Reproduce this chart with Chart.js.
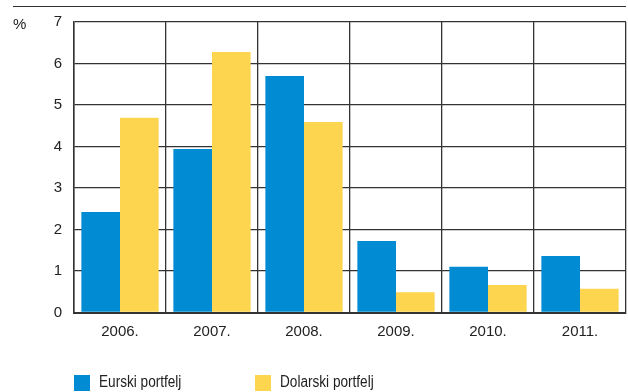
<!DOCTYPE html>
<html>
<head>
<meta charset="utf-8">
<script src="https://cdn.jsdelivr.net/npm/chart.js@4"></script>
<style>
  html, body { margin: 0; padding: 0; background: #fff; }
  body { width: 628px; height: 392px; position: relative; overflow: hidden;
         font-family: "Liberation Sans", Arial, sans-serif; color: #222; }
  #wrap { position: absolute; left: 0; top: 0; width: 628px; height: 392px; }
  .topline { position: absolute; left: 13px; top: 6px; width: 613px; height: 0; border-top: 1.3px solid #333; }
  .unit { position: absolute; left: 13px; top: 15px; font-size: 15px; }
  .leg { position: absolute; top: 373px; font-size: 16px; line-height: 18px;
         transform: scaleX(0.85); transform-origin: left center; white-space: nowrap; }
  .box { position: absolute; top: 375px; width: 16px; height: 16px; }
</style>
</head>
<body>
<div id="wrap"><canvas id="canvas" width="628" height="392"></canvas></div>
<div class="topline"></div>
<div class="unit">%</div>
<div class="box" style="left:74px;background:#008bd2"></div>
<div class="leg" style="left:99px">Eurski portfelj</div>
<div class="box" style="left:255px;background:#fed54e"></div>
<div class="leg" style="left:280px">Dolarski portfelj</div>
<script>
const years = ['2006.', '2007.', '2008.', '2009.', '2010.', '2011.']
const euro = [2.42, 3.94, 5.70, 1.72, 1.10, 1.36]
const dollar = [4.69, 6.28, 4.59, 0.49, 0.66, 0.57]
const yTicks = [0, 1, 2, 3, 4, 5, 6, 7]

const fontFam = '"Liberation Sans", Arial, sans-serif'
const lineCol = '#333333'

const data = {
    labels: years,
    datasets: [
        {
            label: 'Eurski portfelj',
            backgroundColor: '#008bd2',
            data: euro,
        },
        {
            label: 'Dolarski portfelj',
            backgroundColor: '#fed54e',
            data: dollar,
        },
    ],
}

const config = {
    type: 'bar',
    data: data,
    options: {
        responsive: false,
        animation: false,
        layout: { padding: { top: 22, right: 2, left: 0, bottom: 0 } },
        datasets: { bar: { categoryPercentage: 0.84, barPercentage: 1.0 } },
        plugins: { legend: { display: false }, tooltip: { enabled: false } },
        scales: {
            x: {
                grid: { offset: true, color: lineCol, lineWidth: 1.3, drawTicks: false },
                border: { color: lineCol, width: 2 },
                ticks: { color: '#222', font: { family: fontFam, size: 15 }, padding: 10 },
                afterFit: (s) => { s.height = 79.5 },
            },
            y: {
                min: 0,
                max: 7,
                afterBuildTicks: (s) => { s.ticks = yTicks.map(v => ({ value: v })) },
                grid: { color: lineCol, lineWidth: 1.3, drawTicks: false },
                border: { color: lineCol, width: 1.5 },
                ticks: { color: '#222', font: { family: fontFam, size: 15 }, padding: 12 },
                afterFit: (s) => { s.width = 74 },
            },
        },
    },
}

const canvas = document.getElementById('canvas')
const chart = new Chart(canvas, config)
</script>
</body>
</html>
